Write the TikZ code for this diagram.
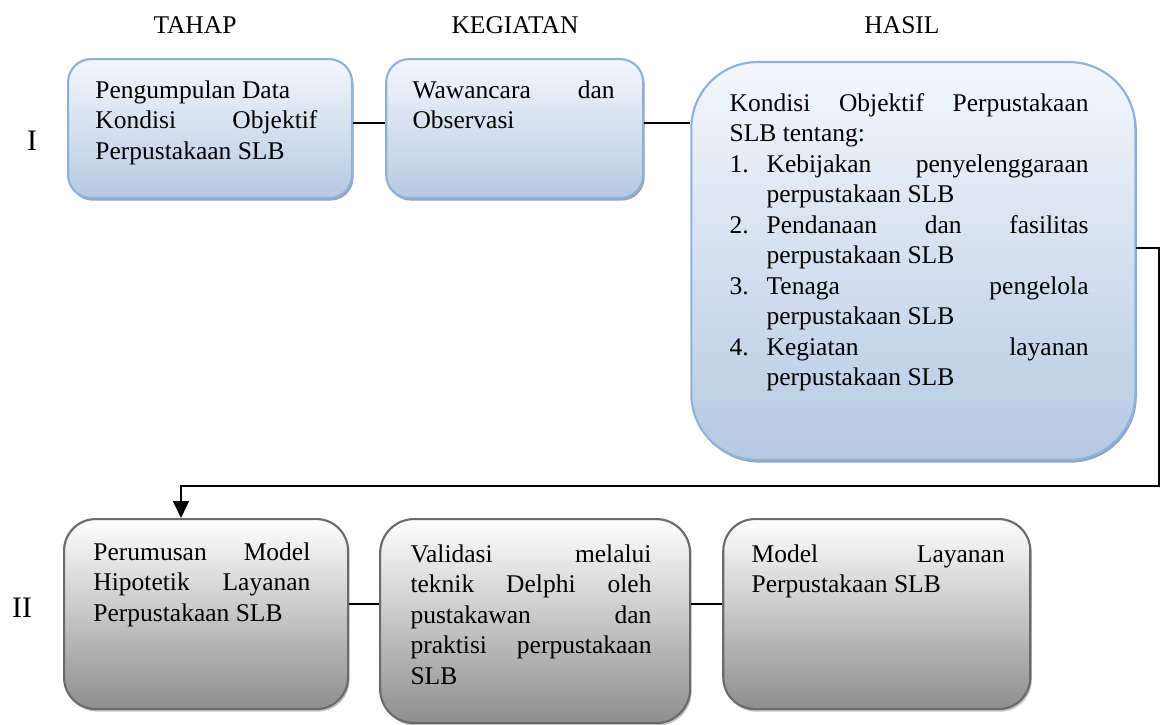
\documentclass[tikz,border=0pt]{standalone}
\usepackage{fontspec}
\setmainfont{LiberationSerif}[Extension=.ttf,
        UprightFont=*-Regular,
        BoldFont=*-Bold]
\usetikzlibrary{calc,
shapes.misc,
arrows.meta,
shadows,
positioning}
\definecolor{biruatas}{HTML}{F3F7FC}
\definecolor{birubawah}{HTML}{B5C9E3}
\definecolor{birugaris}{HTML}{8EB1DA}
\definecolor{birubayang}{HTML}{8799B2}
\definecolor{abuatas}{HTML}{FEFEFE}
\definecolor{abubawah}{HTML}{8E8E8E}
\definecolor{abugaris}{HTML}{6A6A6A}
\definecolor{abubayang}{HTML}{BDBDBD}
\hyphenpenalty=10000
\tolerance=10000
\hbadness=10000
\newcommand{\butir}[2]{\par\noindent\hangindent=17.4pt\hangafter=1\makebox[17.4pt][l]{#1}#2\par}

\begin{document}
\begin{tikzpicture} [x=0.4706pt,
        y=-0.4706pt,
        font=\fontsize{12}{14.35}\selectfont,
        biru box/.style={rectangle, draw=birugaris, line width=1pt,
                top color=biruatas, bottom color=birubawah, inner sep=0pt,
                drop shadow={shadow xshift=0.7pt, shadow yshift=-1.2pt,
                        fill=birubayang, opacity=0.9}},
        abu box/.style={rectangle, draw=abugaris, line width=1pt,
                top color=abuatas, bottom color=abubawah, inner sep=0pt,
                drop shadow={shadow xshift=0.7pt, shadow yshift=-1.2pt,
                        fill=abubayang, opacity=0.9}},
        isi/.style={inner sep=0pt, align=justify},
        garis/.style={line width=0.9pt}]

    \useasboundingbox (0,0) rectangle (1170,724);

    % judul kolom
    \node [anchor=base] (tahap_lbl) at (195,33) {TAHAP};
    \node [anchor=base] (kegiatan_lbl) at (515,33) {KEGIATAN};
    \node [anchor=base] (hasil_lbl) at (902,33) {HASIL};

    \node [anchor=base, font=\fontsize{14}{16}\selectfont] (satu_lbl) at (32,150) {I};
    \node [anchor=base, font=\fontsize{14}{16}\selectfont] (dua_lbl) at (22,617) {II};

    % tahap I
    \node [
        biru box,
        rounded corners=10.9pt,
        minimum width=133.65pt,
        minimum height=65.41pt,
        anchor=north west
    ] (kumpul) at (67,58) {};

    \node [
        biru box,
        rounded corners=10.9pt,
        minimum width=120.94pt,
        minimum height=65.41pt,
        right=15.06pt of kumpul.north east,
        anchor=north west
    ] (wawancara) {};

    \node [
        biru box,
        rounded corners=31.2pt,
        minimum width=208.94pt,
        minimum height=187.3pt,
        right=21.65pt of wawancara.north east,
        anchor=north west,
        yshift=-1.4pt
    ] (kondisi) {};

    \node [
        isi,
        text width=104.5pt,
        below right=8.75pt and 13.18pt of kumpul.north west
    ] (kumpul_txt) {\strut Pengumpulan Data\newline
        Kondisi Objektif\linebreak Perpustakaan SLB};

    \node [
        isi,
        text width=95.1pt,
        below right=8.75pt and 12.7pt of wawancara.north west
    ] (wawancara_txt) {\strut Wawancara dan\linebreak Observasi};

    \node [
        isi,
        text width=168.9pt,
        below right=13.46pt and 18.35pt of kondisi.north west
    ] (kondisi_txt) {\strut Kondisi Objektif Perpustakaan\linebreak SLB tentang:
        \butir{1.}{Kebijakan penyelenggaraan\linebreak perpustakaan SLB}
        \butir{2.}{Pendanaan dan fasilitas\linebreak perpustakaan SLB}
        \butir{3.}{Tenaga pengelola\linebreak perpustakaan SLB}
        \butir{4.}{Kegiatan layanan\linebreak perpustakaan SLB}};

    % tahap II
    \node [
        abu box,
        rounded corners=14.9pt,
        minimum width=133.65pt,
        minimum height=89.41pt,
        anchor=north west
    ] (rumus) at (63,518) {};

    \node [
        abu box,
        rounded corners=16pt,
        minimum width=145.88pt,
        minimum height=96pt,
        right=14.1pt of rumus.north east,
        anchor=north west
    ] (validasi) {};

    \node [
        abu box,
        rounded corners=14.9pt,
        minimum width=144.47pt,
        minimum height=89.41pt,
        right=14.6pt of validasi.north east,
        anchor=north west
    ] (model) {};

    \node [
        isi,
        text width=102.1pt,
        below right=9.69pt and 14.12pt of rumus.north west
    ] (rumus_txt) {\strut Perumusan Model\linebreak Hipotetik Layanan\linebreak
        Perpustakaan SLB};

    \node [
        isi,
        text width=113.4pt,
        below right=10.64pt and 14.59pt of validasi.north west
    ] (validasi_txt) {\strut Validasi melalui\linebreak teknik Delphi oleh\linebreak
        pustakawan dan\linebreak praktisi perpustakaan\linebreak SLB};

    \node [
        isi,
        text width=119.1pt,
        below right=10.64pt and 13.65pt of model.north west
    ] (model_txt) {\strut Model Layanan\linebreak Perpustakaan SLB};

    % garis penghubung
    \draw [garis] ([yshift=2.6pt]kumpul.east) -- ([yshift=2.6pt]kumpul.east -| wawancara.west);
    \draw [garis] ([yshift=2.6pt]wawancara.east) -- ([yshift=2.6pt]wawancara.east -| kondisi.west);

    \coordinate (belok) at (1159,486);
    \draw [garis, -{Triangle[length=8pt, width=7.5pt]}]
        ([yshift=6.1pt]kondisi.east) -| (belok) -| ([xshift=-11.8pt]rumus.north);

    \draw [garis] ([yshift=4.7pt]rumus.east) -- ([yshift=4.7pt]rumus.east -| validasi.west);
    \draw [garis] ([yshift=4.7pt]rumus.east -| validasi.east) -- ([yshift=4.7pt]rumus.east -| model.west);

\end{tikzpicture}
\end{document}
